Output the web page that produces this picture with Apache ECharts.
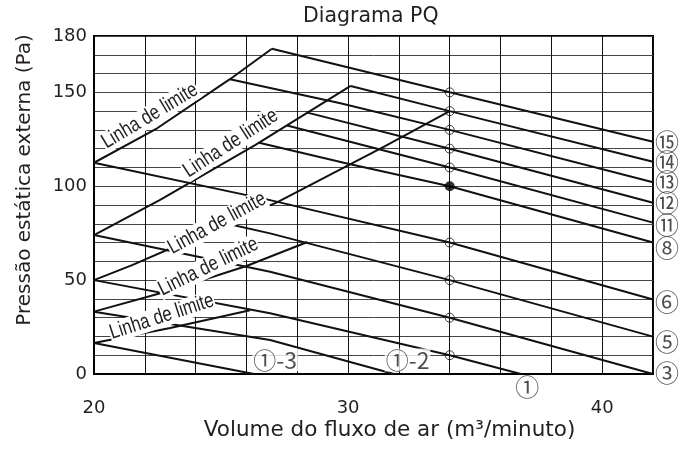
<!DOCTYPE html>
<html>
<head>
<meta charset="utf-8">
<script src="https://cdn.jsdelivr.net/npm/echarts@6/dist/echarts.min.js"></script>
<style>
  html, body { margin: 0; padding: 0; background: #fff; }
  #chart { width: 680px; height: 450px; }
</style>
</head>
<body>
<div id="chart"></div>
<script>
// tick labels shown on the axes
const xTickLabels = [20, 30, 40];
const yTickLabels = [0, 50, 100, 150, 180];

// limit lines ("Linha de limite"), [flow, pressure]
const limitA = [[20, 112.5], [22.5, 131], [25.35, 157], [27, 173.2]];
const limitB = [[20, 74], [22.6, 92.7], [26.34, 121.9], [30.1, 153.4]];
const limitC = [[20, 50], [21.5, 58], [24, 72.7], [27.2, 91.4], [31.4, 121], [34, 140]];
const limitD = [[20, 33.2], [23, 44.5], [26, 57.5], [28.4, 70.3]];
const limitE = [[20, 16.5], [23, 24.5], [26.14, 34]];
const limitLines = [limitA, limitB, limitC, limitD, limitE];

// fan curves
const curve15 = [[27, 173.2], [34, 150], [42, 123.7]];
const curve14 = [[30.1, 153.4], [34, 140], [42, 113]];
const curve13 = [[25.35, 157], [29.7, 144.2], [34, 130], [42, 102.1]];
const curve12 = [[28.4, 139.2], [34, 120], [42, 91.2]];
const curve11 = [[27.6, 132.3], [34, 110], [42, 80.6]];
const curve8 = [[26.5, 123.2], [30, 112], [34, 100], [42, 70]];
const curve6 = [[20, 112.5], [26.93, 92.6], [34, 70], [42, 39.7]];
const curve5 = [[25.25, 80], [26.93, 74.9], [34, 50], [42, 19.9]];
const curve3 = [[20, 74], [26.93, 54.5], [34, 30], [42, 0]];
const curve1 = [[20, 50], [26.93, 32.3], [34, 10], [36.8, 0]];
const curve1b = [[20, 33.2], [26.93, 18.1], [31.8, 0]];
const curve1c = [[20, 16.5], [26.3, 0]];
const fanCurves = [curve15, curve14, curve13, curve12, curve11, curve8,
  curve6, curve5, curve3, curve1, curve1b, curve1c];

// measuring points at 34 m3/min
const pointX = 34;
const hollowY = [150, 140, 130, 120, 110, 70, 50, 30, 10];
const filledY = [100];

// curve names at right edge
const rightNames = ["⑮", "⑭", "⑬", "⑫", "⑪", "⑧", "⑥", "⑤", "③"];
const rightY = [123.7, 112.9, 102.2, 91, 79.5, 67.1, 38.5, 17.2, 0.4];

// other curve names
const innerNames = ["①-2", "①-3"];
const innerPos = [[32.34, 7.45], [27.13, 7.45]];
const bottomName = "①";
const bottomX = 37.05;

// "Linha de limite" labels
const limitText = "Linha de limite";
const limitLabelPos = [[22.2, 137.4], [25.38, 122.8], [24.84, 80.2], [24.5, 57.1], [22.67, 30.5]];
const limitLabelAngle = [31, 33, 28.5, 26, 18];

const textColor = "#231f20";
const font = "DejaVu Sans";
const circledFont = "'Noto Sans CJK JP', sans-serif";

const chart = echarts.init(document.getElementById("chart"));

const series = [];
limitLines.concat(fanCurves).forEach((pts) => {
  series.push({
    type: "line",
    data: pts,
    showSymbol: false,
    silent: true,
    z: 3,
    lineStyle: { color: "#111", width: 2 },
  });
});

series.push({
  type: "scatter",
  data: hollowY.map((y) => [pointX, y]),
  symbol: "circle",
  symbolSize: 9,
  silent: true,
  z: 4,
  itemStyle: { color: "rgba(0,0,0,0)", borderColor: "#111", borderWidth: 1 },
});
series.push({
  type: "scatter",
  data: filledY.map((y) => [pointX, y]),
  symbolSize: 10,
  silent: true,
  z: 4,
  itemStyle: { color: "#000" },
});

// right edge names
series.push({
  type: "scatter",
  data: rightY.map((y, i) => ({ value: [42, y], name: rightNames[i] })),
  symbolSize: 0,
  silent: true,
  clip: false,
  z: 6,
  label: {
    show: true,
    position: "right",
    distance: 2,
    formatter: (p) => p.name,
    color: textColor,
    fontFamily: circledFont,
    fontSize: 24,
  },
});

series.push({
  type: "scatter",
  data: innerPos.map((p, i) => ({ value: p, name: innerNames[i] })),
  symbolSize: 0,
  silent: true,
  z: 6,
  label: {
    show: true,
    position: "inside",
    formatter: (p) => p.name,
    color: textColor,
    fontFamily: circledFont,
    fontSize: 23,
    backgroundColor: "#fff",
    padding: [0, 1],
  },
});

series.push({
  type: "scatter",
  data: [{ value: [bottomX, 0], name: bottomName }],
  symbolSize: 0,
  silent: true,
  clip: false,
  z: 6,
  label: {
    show: true,
    position: "bottom",
    distance: 1,
    formatter: (p) => p.name,
    color: textColor,
    fontFamily: circledFont,
    fontSize: 24,
  },
});

const option = {
  animation: false,
  title: {
    text: "Diagrama PQ",
    left: 303,
    top: 6,
    padding: 0,
    textStyle: { fontFamily: font, fontSize: 20.5, fontWeight: "normal", color: textColor },
  },
  grid: {
    left: 94,
    right: 27,
    top: 36,
    bottom: 76,
    show: true,
    borderColor: "#000",
    borderWidth: 2,
  },
  xAxis: {
    type: "value",
    min: 20,
    max: 42,
    interval: 2,
    axisLine: { lineStyle: { color: "#000", width: 2 } },
    axisTick: { show: false },
    splitLine: { lineStyle: { color: "#111", width: 1 } },
    axisLabel: {
      margin: 25,
      fontFamily: font,
      fontSize: 18,
      color: textColor,
      formatter: (v) => (xTickLabels.includes(v) ? String(v) : ""),
    },
  },
  yAxis: {
    type: "value",
    min: 0,
    max: 180,
    interval: 10,
    axisLine: { show: true, lineStyle: { color: "#000", width: 2 } },
    axisTick: { show: false },
    splitLine: { lineStyle: { color: "#444", width: 1 } },
    axisLabel: {
      margin: 7,
      fontFamily: font,
      fontSize: 18,
      color: textColor,
      formatter: (v) => (yTickLabels.includes(v) ? String(v) : ""),
    },
  },
  series: series,
};
chart.setOption(option);

// axis names and the narrow "Linha de limite" texts, placed through the grid scale
const graphics = [
  {
    type: "text",
    x: 25,
    y: 180,
    rotation: Math.PI / 2,
    style: {
      text: "Pressão estática externa (Pa)",
      font: "20px 'DejaVu Sans'",
      fill: textColor,
      textAlign: "center",
      textVerticalAlign: "middle",
    },
  },
  {
    type: "text",
    x: 389.5,
    y: 430,
    style: {
      text: "Volume do fluxo de ar (m³/minuto)",
      font: "21.5px 'DejaVu Sans'",
      fill: textColor,
      textAlign: "center",
      textVerticalAlign: "middle",
    },
  },
];
limitLabelPos.forEach((p, i) => {
  const px = chart.convertToPixel({ gridIndex: 0 }, p);
  graphics.push({
    type: "text",
    x: px[0],
    y: px[1],
    rotation: (limitLabelAngle[i] * Math.PI) / 180,
    scaleX: 0.8,
    z: 100,
    style: {
      text: limitText,
      font: "21px 'Liberation Sans'",
      fill: textColor,
      textAlign: "center",
      textVerticalAlign: "middle",
      backgroundColor: "#fff",
      padding: [0, 1],
    },
  });
});
chart.setOption({ graphic: graphics });
</script>
</body>
</html>
